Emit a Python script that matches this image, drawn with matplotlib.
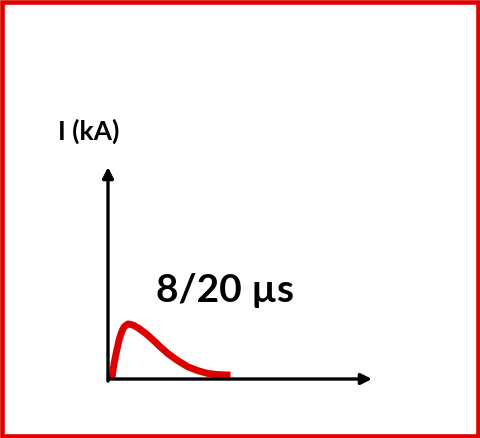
import matplotlib
matplotlib.use('Agg')
from matplotlib import pyplot as plt
from matplotlib.patches import Rectangle

# 8/20 us surge waveform (time in us, current normalised to peak)
t_us = [1.5, 2.5, 3.5, 4.5, 5.5, 6.5, 8, 10, 12, 15, 18, 21, 24, 28, 32, 36, 40, 44, 49]
i_norm = [0.0, 0.30, 0.52, 0.72, 0.86, 0.95, 1.0, 0.98, 0.93, 0.83, 0.71, 0.58, 0.46,
          0.33, 0.22, 0.15, 0.10, 0.08, 0.07]

y_label = 'I (kA)'
wave_label = '8/20 µs'

RED = '#dc0000'
W, H = 480, 438

fig = plt.figure(figsize=(W / 100, H / 100), dpi=100)
plt.rcParams['font.family'] = ['Lato', 'DejaVu Sans']

# axes placed so the origin sits where it is in the reference
ax = fig.add_axes([108 / W, (H - 379) / H, 264 / W, 212 / H])
ax.set_xlim(0, 105.6)
ax.set_ylim(0, 3.85)
ax.axis('off')

ax.plot(t_us, i_norm, color=RED, lw=5, solid_capstyle='butt', solid_joinstyle='round')

# axis arrows
arrow = dict(arrowstyle='-|>', color='black', lw=2.4, mutation_scale=16, shrinkA=0, shrinkB=0)
ax.annotate('', xy=(1, 0), xytext=(0, 0), xycoords='axes fraction', arrowprops=arrow)
ax.annotate('', xy=(0, 1), xytext=(0, -0.01), xycoords='axes fraction', arrowprops=arrow)

fig.text(89 / W, 1 - 131 / H, y_label, ha='center', va='center', fontsize=19, fontweight='bold')
fig.text(225 / W, 1 - 290 / H, wave_label, ha='center', va='center', fontsize=28, fontweight='bold')

# red frame round the whole picture
fig.patches.append(Rectangle((2.25 / W, 2.25 / H), 1 - 4.5 / W, 1 - 4.5 / H, transform=fig.transFigure,
                             fill=False, edgecolor=RED, lw=3.3))

fig.savefig('out.png', dpi=100)
